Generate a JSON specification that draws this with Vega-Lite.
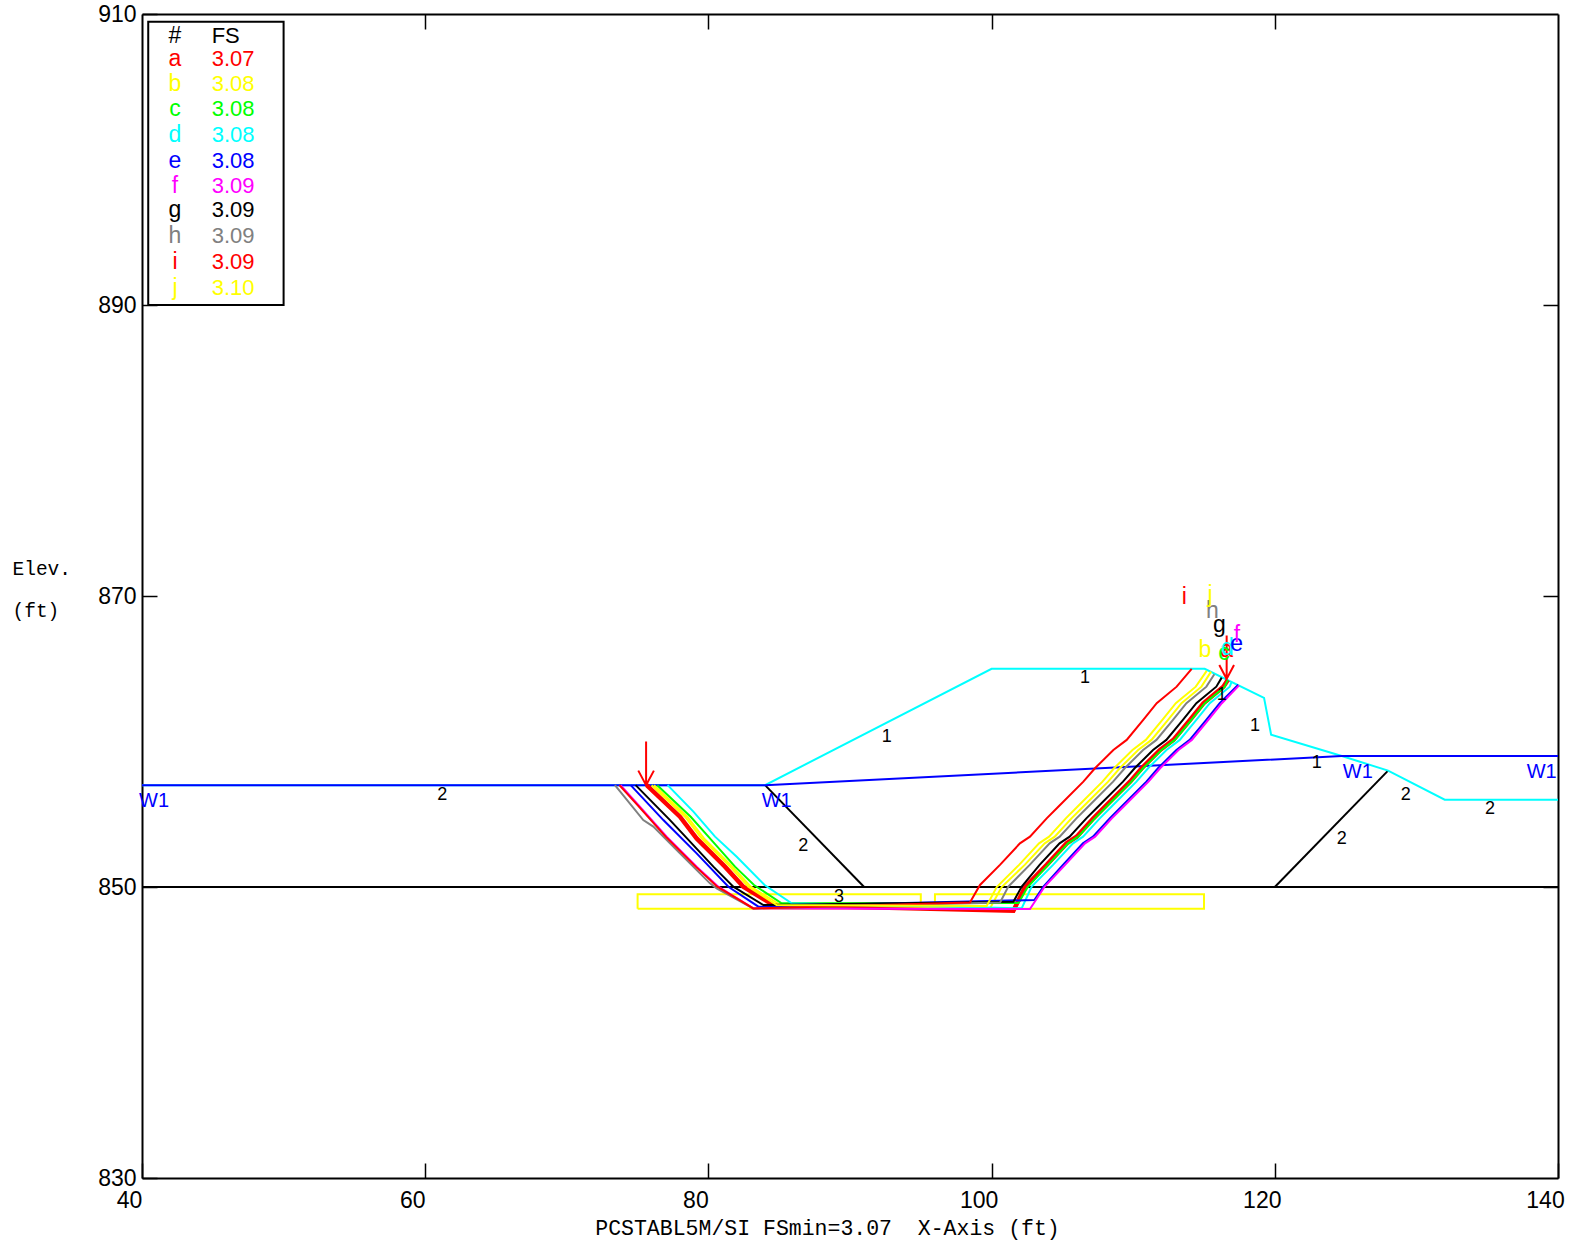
{
"$schema":"https://vega.github.io/schema/vega-lite/v6.json",
"autosize":"none","width":1416,"height":1164,
"padding":{"left":142,"top":14,"right":17,"bottom":67},
"background":"white",
"config":{"view":{"stroke":null}},
"datasets":{
"base":[
{"s":"r1","c":"yellow","o":1,"x":75,"y":848.5},{"s":"r1","c":"yellow","o":2,"x":95,"y":848.5},{"s":"r1","c":"yellow","o":3,"x":95,"y":849.5},{"s":"r1","c":"yellow","o":4,"x":75,"y":849.5},{"s":"r1","c":"yellow","o":5,"x":75,"y":848.5},
{"s":"r2","c":"yellow","o":1,"x":96,"y":848.5},{"s":"r2","c":"yellow","o":2,"x":115,"y":848.5},{"s":"r2","c":"yellow","o":3,"x":115,"y":849.5},{"s":"r2","c":"yellow","o":4,"x":96,"y":849.5},{"s":"r2","c":"yellow","o":5,"x":96,"y":848.5},
{"s":"b1","c":"black","o":1,"x":40,"y":850},{"s":"b1","c":"black","o":2,"x":140,"y":850},
{"s":"b2","c":"black","o":1,"x":84,"y":857},{"s":"b2","c":"black","o":2,"x":91,"y":850},
{"s":"b3","c":"black","o":1,"x":120,"y":850},{"s":"b3","c":"black","o":2,"x":128,"y":858},
{"s":"ground","c":"cyan","o":1,"x":40,"y":857},{"s":"ground","c":"cyan","o":2,"x":84,"y":857},{"s":"ground","c":"cyan","o":3,"x":100,"y":865},{"s":"ground","c":"cyan","o":4,"x":115.05,"y":865},{"s":"ground","c":"cyan","o":5,"x":119.24,"y":863},{"s":"ground","c":"cyan","o":6,"x":119.74,"y":860.47},{"s":"ground","c":"cyan","o":7,"x":124.73,"y":859},{"s":"ground","c":"cyan","o":8,"x":128,"y":858},{"s":"ground","c":"cyan","o":9,"x":132,"y":856},{"s":"ground","c":"cyan","o":10,"x":140,"y":856},
{"s":"water","c":"blue","o":1,"x":40,"y":857},{"s":"water","c":"blue","o":2,"x":84,"y":857},{"s":"water","c":"blue","o":3,"x":124.73,"y":859},{"s":"water","c":"blue","o":4,"x":140,"y":859}
],
"crit":[
{"s":"a","c":"a","o":1,"x":75.64,"y":857},{"s":"a","c":"a","o":2,"x":77.99,"y":854.83},{"s":"a","c":"a","o":3,"x":79.17,"y":853.34},{"s":"a","c":"a","o":4,"x":81.17,"y":851.4},{"s":"a","c":"a","o":5,"x":82.47,"y":850.02},{"s":"a","c":"a","o":6,"x":84.59,"y":848.76},{"s":"a","c":"a","o":7,"x":101.54,"y":848.37},{"s":"a","c":"a","o":8,"x":102.36,"y":850},{"s":"a","c":"a","o":9,"x":103.89,"y":851.52},{"s":"a","c":"a","o":10,"x":105.3,"y":853},{"s":"a","c":"a","o":11,"x":106.01,"y":853.46},{"s":"a","c":"a","o":12,"x":107.19,"y":854.72},{"s":"a","c":"a","o":13,"x":108.01,"y":855.52},{"s":"a","c":"a","o":14,"x":109.78,"y":857.24},{"s":"a","c":"a","o":15,"x":110.6,"y":858.16},{"s":"a","c":"a","o":16,"x":111.9,"y":859.42},{"s":"a","c":"a","o":17,"x":112.84,"y":860.11},{"s":"a","c":"a","o":18,"x":114.01,"y":861.48},{"s":"a","c":"a","o":19,"x":114.96,"y":862.63},{"s":"a","c":"a","o":20,"x":116.37,"y":863.77},{"s":"a","c":"a","o":21,"x":116.68,"y":864.23}
],
"surf":[
{"s":"b","c":"b","o":1,"x":76.16,"y":857},{"s":"b","c":"b","o":2,"x":78.51,"y":854.83},{"s":"b","c":"b","o":3,"x":79.69,"y":853.34},{"s":"b","c":"b","o":4,"x":81.69,"y":851.4},{"s":"b","c":"b","o":5,"x":82.99,"y":850.02},{"s":"b","c":"b","o":6,"x":84.99,"y":848.83},{"s":"b","c":"b","o":7,"x":99.89,"y":848.54},{"s":"b","c":"b","o":8,"x":100.71,"y":850},{"s":"b","c":"b","o":9,"x":102.34,"y":851.52},{"s":"b","c":"b","o":10,"x":103.75,"y":853},{"s":"b","c":"b","o":11,"x":104.46,"y":853.46},{"s":"b","c":"b","o":12,"x":105.64,"y":854.72},{"s":"b","c":"b","o":13,"x":106.46,"y":855.52},{"s":"b","c":"b","o":14,"x":108.23,"y":857.24},{"s":"b","c":"b","o":15,"x":109.05,"y":858.16},{"s":"b","c":"b","o":16,"x":110.35,"y":859.42},{"s":"b","c":"b","o":17,"x":111.29,"y":860.11},{"s":"b","c":"b","o":18,"x":112.46,"y":861.48},{"s":"b","c":"b","o":19,"x":113.41,"y":862.63},{"s":"b","c":"b","o":20,"x":114.82,"y":863.77},{"s":"b","c":"b","o":21,"x":115.5,"y":864.8},
{"s":"c","c":"c","o":1,"x":76.39,"y":857},{"s":"c","c":"c","o":2,"x":78.75,"y":854.83},{"s":"c","c":"c","o":3,"x":80.11,"y":853.34},{"s":"c","c":"c","o":4,"x":81.88,"y":851.4},{"s":"c","c":"c","o":5,"x":83.22,"y":850.14},{"s":"c","c":"c","o":6,"x":85.17,"y":848.88},{"s":"c","c":"c","o":7,"x":101.9,"y":848.9},{"s":"c","c":"c","o":8,"x":102.55,"y":850},{"s":"c","c":"c","o":9,"x":103.99,"y":851.52},{"s":"c","c":"c","o":10,"x":105.4,"y":853},{"s":"c","c":"c","o":11,"x":106.11,"y":853.46},{"s":"c","c":"c","o":12,"x":107.29,"y":854.72},{"s":"c","c":"c","o":13,"x":108.11,"y":855.52},{"s":"c","c":"c","o":14,"x":109.88,"y":857.24},{"s":"c","c":"c","o":15,"x":110.7,"y":858.16},{"s":"c","c":"c","o":16,"x":112,"y":859.42},{"s":"c","c":"c","o":17,"x":112.94,"y":860.11},{"s":"c","c":"c","o":18,"x":114.11,"y":861.48},{"s":"c","c":"c","o":19,"x":115.06,"y":862.63},{"s":"c","c":"c","o":20,"x":116.47,"y":863.77},{"s":"c","c":"c","o":21,"x":116.68,"y":864.23},
{"s":"d","c":"d","o":1,"x":77.12,"y":857},{"s":"d","c":"d","o":2,"x":78.94,"y":855.18},{"s":"d","c":"d","o":3,"x":80.47,"y":853.46},{"s":"d","c":"d","o":4,"x":82,"y":852.08},{"s":"d","c":"d","o":5,"x":83.97,"y":850.14},{"s":"d","c":"d","o":6,"x":85.88,"y":848.88},{"s":"d","c":"d","o":7,"x":102.13,"y":848.54},{"s":"d","c":"d","o":8,"x":102.83,"y":850.03},{"s":"d","c":"d","o":9,"x":104.34,"y":851.52},{"s":"d","c":"d","o":10,"x":105.75,"y":853},{"s":"d","c":"d","o":11,"x":106.46,"y":853.46},{"s":"d","c":"d","o":12,"x":107.64,"y":854.72},{"s":"d","c":"d","o":13,"x":108.46,"y":855.52},{"s":"d","c":"d","o":14,"x":110.23,"y":857.24},{"s":"d","c":"d","o":15,"x":111.05,"y":858.16},{"s":"d","c":"d","o":16,"x":112.35,"y":859.42},{"s":"d","c":"d","o":17,"x":113.29,"y":860.11},{"s":"d","c":"d","o":18,"x":114.46,"y":861.48},{"s":"d","c":"d","o":19,"x":115.41,"y":862.63},{"s":"d","c":"d","o":20,"x":116.82,"y":863.77},{"s":"d","c":"d","o":21,"x":116.95,"y":864.1},
{"s":"e","c":"e","o":1,"x":74.51,"y":857},{"s":"e","c":"e","o":2,"x":76.82,"y":854.6},{"s":"e","c":"e","o":3,"x":79.17,"y":852.31},{"s":"e","c":"e","o":4,"x":81.41,"y":850.02},{"s":"e","c":"e","o":5,"x":83.53,"y":848.65},{"s":"e","c":"e","o":6,"x":103.02,"y":849.11},{"s":"e","c":"e","o":7,"x":103.66,"y":850.03},{"s":"e","c":"e","o":8,"x":105.04,"y":851.52},{"s":"e","c":"e","o":9,"x":106.45,"y":853},{"s":"e","c":"e","o":10,"x":107.16,"y":853.46},{"s":"e","c":"e","o":11,"x":108.34,"y":854.72},{"s":"e","c":"e","o":12,"x":109.16,"y":855.52},{"s":"e","c":"e","o":13,"x":110.93,"y":857.24},{"s":"e","c":"e","o":14,"x":111.75,"y":858.16},{"s":"e","c":"e","o":15,"x":113.05,"y":859.42},{"s":"e","c":"e","o":16,"x":113.99,"y":860.11},{"s":"e","c":"e","o":17,"x":115.16,"y":861.48},{"s":"e","c":"e","o":18,"x":116.11,"y":862.63},{"s":"e","c":"e","o":19,"x":117.42,"y":863.9},
{"s":"f","c":"f","o":1,"x":73.8,"y":857},{"s":"f","c":"f","o":2,"x":75.05,"y":855.64},{"s":"f","c":"f","o":3,"x":77.05,"y":853.46},{"s":"f","c":"f","o":4,"x":79.17,"y":851.4},{"s":"f","c":"f","o":5,"x":80.7,"y":850.02},{"s":"f","c":"f","o":6,"x":83.17,"y":848.53},{"s":"f","c":"f","o":7,"x":102.71,"y":848.49},{"s":"f","c":"f","o":8,"x":103.75,"y":850.03},{"s":"f","c":"f","o":9,"x":105.19,"y":851.52},{"s":"f","c":"f","o":10,"x":106.6,"y":853},{"s":"f","c":"f","o":11,"x":107.31,"y":853.46},{"s":"f","c":"f","o":12,"x":108.49,"y":854.72},{"s":"f","c":"f","o":13,"x":109.31,"y":855.52},{"s":"f","c":"f","o":14,"x":111.08,"y":857.24},{"s":"f","c":"f","o":15,"x":111.9,"y":858.16},{"s":"f","c":"f","o":16,"x":113.2,"y":859.42},{"s":"f","c":"f","o":17,"x":114.14,"y":860.11},{"s":"f","c":"f","o":18,"x":115.31,"y":861.48},{"s":"f","c":"f","o":19,"x":116.26,"y":862.63},{"s":"f","c":"f","o":20,"x":117.48,"y":863.86},
{"s":"g","c":"g","o":1,"x":74.86,"y":857},{"s":"g","c":"g","o":2,"x":77.29,"y":854.6},{"s":"g","c":"g","o":3,"x":80.35,"y":851.4},{"s":"g","c":"g","o":4,"x":81.76,"y":850.02},{"s":"g","c":"g","o":5,"x":83.88,"y":848.76},{"s":"g","c":"g","o":6,"x":101.54,"y":848.99},{"s":"g","c":"g","o":7,"x":102.13,"y":850.03},{"s":"g","c":"g","o":8,"x":103.39,"y":851.52},{"s":"g","c":"g","o":9,"x":104.8,"y":853},{"s":"g","c":"g","o":10,"x":105.51,"y":853.46},{"s":"g","c":"g","o":11,"x":106.69,"y":854.72},{"s":"g","c":"g","o":12,"x":107.51,"y":855.52},{"s":"g","c":"g","o":13,"x":109.28,"y":857.24},{"s":"g","c":"g","o":14,"x":110.1,"y":858.16},{"s":"g","c":"g","o":15,"x":111.4,"y":859.42},{"s":"g","c":"g","o":16,"x":112.34,"y":860.11},{"s":"g","c":"g","o":17,"x":113.51,"y":861.48},{"s":"g","c":"g","o":18,"x":114.46,"y":862.63},{"s":"g","c":"g","o":19,"x":115.87,"y":863.77},{"s":"g","c":"g","o":20,"x":116.25,"y":864.39},
{"s":"h","c":"h","o":1,"x":73.4,"y":857},{"s":"h","c":"h","o":2,"x":75.4,"y":854.6},{"s":"h","c":"h","o":3,"x":76.11,"y":854.15},{"s":"h","c":"h","o":4,"x":77.99,"y":852.31},{"s":"h","c":"h","o":5,"x":80.11,"y":850.25},{"s":"h","c":"h","o":6,"x":80.58,"y":849.91},{"s":"h","c":"h","o":7,"x":83.17,"y":848.53},{"s":"h","c":"h","o":8,"x":100.6,"y":848.93},{"s":"h","c":"h","o":9,"x":101.18,"y":850.03},{"s":"h","c":"h","o":10,"x":102.69,"y":851.52},{"s":"h","c":"h","o":11,"x":104.1,"y":853},{"s":"h","c":"h","o":12,"x":104.81,"y":853.46},{"s":"h","c":"h","o":13,"x":105.99,"y":854.72},{"s":"h","c":"h","o":14,"x":106.81,"y":855.52},{"s":"h","c":"h","o":15,"x":108.58,"y":857.24},{"s":"h","c":"h","o":16,"x":109.4,"y":858.16},{"s":"h","c":"h","o":17,"x":110.7,"y":859.42},{"s":"h","c":"h","o":18,"x":111.64,"y":860.11},{"s":"h","c":"h","o":19,"x":112.81,"y":861.48},{"s":"h","c":"h","o":20,"x":113.76,"y":862.63},{"s":"h","c":"h","o":21,"x":115.17,"y":863.77},{"s":"h","c":"h","o":22,"x":115.73,"y":864.62},
{"s":"i","c":"i","o":1,"x":73.71,"y":857},{"s":"i","c":"i","o":2,"x":74.98,"y":855.64},{"s":"i","c":"i","o":3,"x":76.98,"y":853.46},{"s":"i","c":"i","o":4,"x":79.1,"y":851.4},{"s":"i","c":"i","o":5,"x":80.63,"y":850.02},{"s":"i","c":"i","o":6,"x":83.17,"y":848.53},{"s":"i","c":"i","o":7,"x":98.47,"y":848.93},{"s":"i","c":"i","o":8,"x":99.18,"y":850.14},{"s":"i","c":"i","o":9,"x":100.59,"y":851.52},{"s":"i","c":"i","o":10,"x":102,"y":853},{"s":"i","c":"i","o":11,"x":102.71,"y":853.46},{"s":"i","c":"i","o":12,"x":103.89,"y":854.72},{"s":"i","c":"i","o":13,"x":104.71,"y":855.52},{"s":"i","c":"i","o":14,"x":106.48,"y":857.24},{"s":"i","c":"i","o":15,"x":107.3,"y":858.16},{"s":"i","c":"i","o":16,"x":108.6,"y":859.42},{"s":"i","c":"i","o":17,"x":109.54,"y":860.11},{"s":"i","c":"i","o":18,"x":110.71,"y":861.48},{"s":"i","c":"i","o":19,"x":111.66,"y":862.63},{"s":"i","c":"i","o":20,"x":113.07,"y":863.77},{"s":"i","c":"i","o":21,"x":114.13,"y":864.99},
{"s":"j","c":"j","o":1,"x":75.99,"y":857},{"s":"j","c":"j","o":2,"x":78.35,"y":854.83},{"s":"j","c":"j","o":3,"x":79.52,"y":853.34},{"s":"j","c":"j","o":4,"x":81.53,"y":851.4},{"s":"j","c":"j","o":5,"x":82.82,"y":850.02},{"s":"j","c":"j","o":6,"x":84.82,"y":848.76},{"s":"j","c":"j","o":7,"x":99.65,"y":848.7},{"s":"j","c":"j","o":8,"x":100.36,"y":850},{"s":"j","c":"j","o":9,"x":101.94,"y":851.52},{"s":"j","c":"j","o":10,"x":103.35,"y":853},{"s":"j","c":"j","o":11,"x":104.06,"y":853.46},{"s":"j","c":"j","o":12,"x":105.24,"y":854.72},{"s":"j","c":"j","o":13,"x":106.06,"y":855.52},{"s":"j","c":"j","o":14,"x":107.83,"y":857.24},{"s":"j","c":"j","o":15,"x":108.65,"y":858.16},{"s":"j","c":"j","o":16,"x":109.95,"y":859.42},{"s":"j","c":"j","o":17,"x":110.89,"y":860.11},{"s":"j","c":"j","o":18,"x":112.06,"y":861.48},{"s":"j","c":"j","o":19,"x":113.01,"y":862.63},{"s":"j","c":"j","o":20,"x":114.42,"y":863.77},{"s":"j","c":"j","o":21,"x":115.19,"y":864.85},
{"s":"arrow1","c":"a","o":1,"x":75.6,"y":860},{"s":"arrow1","c":"a","o":2,"x":75.6,"y":857},{"s":"arrow1","c":"a","o":3,"x":75.05,"y":858},{"s":"arrow1","c":"a","o":4,"x":75.6,"y":857},{"s":"arrow1","c":"a","o":5,"x":76.15,"y":858},
{"s":"arrow2","c":"a","o":1,"x":116.6,"y":867.28},{"s":"arrow2","c":"a","o":2,"x":116.6,"y":864.3},{"s":"arrow2","c":"a","o":3,"x":116.08,"y":865.26},{"s":"arrow2","c":"a","o":4,"x":116.6,"y":864.3},{"s":"arrow2","c":"a","o":5,"x":117.12,"y":865.26}
],
"box":[
{"s":"legend","c":"black","o":1,"x":40.44,"y":890},{"s":"legend","c":"black","o":2,"x":50,"y":890},{"s":"legend","c":"black","o":3,"x":50,"y":909.47},{"s":"legend","c":"black","o":4,"x":40.44,"y":909.47},{"s":"legend","c":"black","o":5,"x":40.44,"y":890}
],
"soil":[
{"t":"2","x":61.2,"y":856.3},{"t":"1","x":92.59,"y":860.33},{"t":"2","x":86.7,"y":852.84},{"t":"3","x":89.22,"y":849.33},{"t":"1","x":106.6,"y":864.34},{"t":"1","x":116.25,"y":863.2},{"t":"1","x":118.6,"y":861.07},{"t":"1","x":122.96,"y":858.55},{"t":"2","x":129.25,"y":856.33},{"t":"2","x":135.2,"y":855.34},{"t":"2","x":124.73,"y":853.3}
],
"piez":[
{"t":"W1","x":40.85,"y":855.93},{"t":"W1","x":84.82,"y":855.93},{"t":"W1","x":125.86,"y":857.93},{"t":"W1","x":138.85,"y":857.93}
],
"letters":[
{"t":"a","c":"a","x":116.6,"y":866.3},{"t":"b","c":"b","x":115.07,"y":866.3},{"t":"c","c":"c","x":116.41,"y":866.1},{"t":"d","c":"d","x":116.65,"y":866.4},{"t":"e","c":"e","x":117.3,"y":866.7},{"t":"f","c":"f","x":117.33,"y":867.32},{"t":"g","c":"g","x":116.08,"y":868},{"t":"h","c":"h","x":115.59,"y":868.99},{"t":"i","c":"i","x":113.61,"y":869.96},{"t":"j","c":"j","x":115.42,"y":870.07},
{"t":"#","c":"black","x":42.33,"y":908.49},
{"t":"a","c":"a","x":42.33,"y":906.89},{"t":"b","c":"b","x":42.33,"y":905.19},{"t":"c","c":"c","x":42.33,"y":903.45},{"t":"d","c":"d","x":42.33,"y":901.68},{"t":"e","c":"e","x":42.33,"y":899.92},{"t":"f","c":"f","x":42.33,"y":898.2},{"t":"g","c":"g","x":42.33,"y":896.5},{"t":"h","c":"h","x":42.33,"y":894.71},{"t":"i","c":"i","x":42.33,"y":892.95},{"t":"j","c":"j","x":42.33,"y":891.19}
],
"fs":[
{"t":"FS","c":"black","x":44.92,"y":908.49},
{"t":"3.07","c":"a","x":44.92,"y":906.89},{"t":"3.08","c":"b","x":44.92,"y":905.19},{"t":"3.08","c":"c","x":44.92,"y":903.45},{"t":"3.08","c":"d","x":44.92,"y":901.68},{"t":"3.08","c":"e","x":44.92,"y":899.92},{"t":"3.09","c":"f","x":44.92,"y":898.2},{"t":"3.09","c":"g","x":44.92,"y":896.5},{"t":"3.09","c":"h","x":44.92,"y":894.71},{"t":"3.09","c":"i","x":44.92,"y":892.95},{"t":"3.10","c":"j","x":44.92,"y":891.19}
]
},
"encoding":{
"x":{"field":"x","type":"quantitative","scale":{"domain":[40,140],"nice":false,"zero":false},"axis":null},
"y":{"field":"y","type":"quantitative","scale":{"domain":[830,910],"nice":false,"zero":false},"axis":null}
},
"resolve":{"axis":{"x":"independent","y":"independent"}},
"layer":[
{"data":{"name":"base"},
 "mark":{"type":"line","strokeWidth":2,"clip":false},
 "encoding":{
  "x":{"field":"x","type":"quantitative","axis":{"orient":"bottom","values":[40,60,80,100,120,140],"format":"d","grid":false,"domainColor":"black","domainWidth":2,"tickColor":"black","tickWidth":1.5,"tickSize":-15,"labelPadding":37.7,"labelOffset":-13,"labelBaseline":"middle","labelFont":"Liberation Sans","labelFontSize":23,"labelColor":"black","labelFlush":false,"labelBound":false,"labelOverlap":false,"title":"PCSTABL5M/SI FSmin=3.07\u00a0\u00a0X-Axis (ft)","titleFont":"Liberation Mono","titleFontSize":21.5,"titleFontWeight":"normal","titleColor":"black","titleX":685,"titleY":50,"titleAnchor":"middle","titleAlign":"center","titleBaseline":"middle"}},
  "y":{"field":"y","type":"quantitative","axis":{"orient":"left","values":[830,850,870,890,910],"format":"d","grid":false,"domainColor":"black","domainWidth":2,"tickColor":"black","tickWidth":1.5,"tickSize":-15,"labelPadding":21,"labelFont":"Liberation Sans","labelFontSize":23,"labelColor":"black","labelFlush":false,"labelBound":false,"labelOverlap":false,"title":["Elev.","(ft)"],"titleFont":"Liberation Mono","titleFontSize":19.5,"titleFontWeight":"normal","titleColor":"black","titleAngle":0,"titleX":-130,"titleY":554,"titleAlign":"left","titleBaseline":"middle","titleLineHeight":42.7}},
  "detail":{"field":"s"},"order":{"field":"o","type":"quantitative"},
  "color":{"field":"c","type":"nominal","legend":null,"scale":{"domain":["a","b","c","d","e","f","g","h","i","j","black","blue","cyan","yellow"],"range":["#ff0000","#ffff00","#00ff00","#00ffff","#0000ff","#ff00ff","#000000","#808080","#ff0000","#ffff00","#000000","#0000ff","#00ffff","#ffff00"]}}
 }},
{"data":{"name":"crit"},
 "mark":{"type":"line","strokeWidth":4.5,"clip":false},
 "encoding":{"detail":{"field":"s"},"order":{"field":"o","type":"quantitative"},"color":{"field":"c","type":"nominal","legend":null}}},
{"data":{"name":"surf"},
 "mark":{"type":"line","strokeWidth":2,"clip":false},
 "encoding":{"detail":{"field":"s"},"order":{"field":"o","type":"quantitative"},"color":{"field":"c","type":"nominal","legend":null}}},
{"data":{"name":"box"},
 "mark":{"type":"line","strokeWidth":2,"clip":false},
 "encoding":{
  "x":{"field":"x","type":"quantitative","axis":{"orient":"top","values":[60,80,100,120],"labels":false,"grid":false,"title":null,"domainColor":"black","domainWidth":2,"tickColor":"black","tickWidth":1.5,"tickSize":-15}},
  "y":{"field":"y","type":"quantitative","axis":{"orient":"right","values":[850,870,890],"labels":false,"grid":false,"title":null,"domainColor":"black","domainWidth":2,"tickColor":"black","tickWidth":1.5,"tickSize":-15}},
  "detail":{"field":"s"},"order":{"field":"o","type":"quantitative"},"color":{"field":"c","type":"nominal","legend":null}}},
{"data":{"name":"soil"},
 "mark":{"type":"text","font":"Liberation Sans","fontSize":18,"color":"black","align":"center","baseline":"middle"},
 "encoding":{"text":{"field":"t","type":"nominal"}}},
{"data":{"name":"piez"},
 "mark":{"type":"text","font":"Liberation Sans","fontSize":20,"color":"#0000ff","align":"center","baseline":"middle"},
 "encoding":{"text":{"field":"t","type":"nominal"}}},
{"data":{"name":"letters"},
 "mark":{"type":"text","font":"Liberation Sans","fontSize":23,"align":"center","baseline":"middle"},
 "encoding":{"text":{"field":"t","type":"nominal"},"color":{"field":"c","type":"nominal","legend":null}}},
{"data":{"name":"fs"},
 "mark":{"type":"text","font":"Liberation Sans","fontSize":22,"align":"left","baseline":"middle"},
 "encoding":{"text":{"field":"t","type":"nominal"},"color":{"field":"c","type":"nominal","legend":null}}}
]
}
